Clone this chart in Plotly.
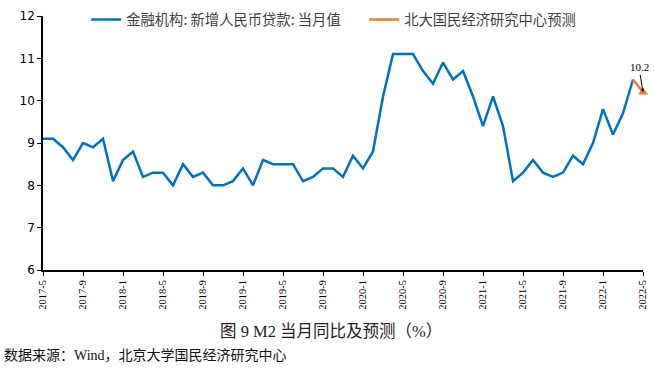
import plotly.graph_objects as go

months = [
    "2017-5", "2017-6", "2017-7", "2017-8", "2017-9", "2017-10", "2017-11", "2017-12",
    "2018-1", "2018-2", "2018-3", "2018-4", "2018-5", "2018-6", "2018-7", "2018-8",
    "2018-9", "2018-10", "2018-11", "2018-12",
    "2019-1", "2019-2", "2019-3", "2019-4", "2019-5", "2019-6", "2019-7", "2019-8",
    "2019-9", "2019-10", "2019-11", "2019-12",
    "2020-1", "2020-2", "2020-3", "2020-4", "2020-5", "2020-6", "2020-7", "2020-8",
    "2020-9", "2020-10", "2020-11", "2020-12",
    "2021-1", "2021-2", "2021-3", "2021-4", "2021-5", "2021-6", "2021-7", "2021-8",
    "2021-9", "2021-10", "2021-11", "2021-12",
    "2022-1", "2022-2", "2022-3", "2022-4", "2022-5",
]

actual_values = [
    9.1, 9.1, 8.9, 8.6, 9.0, 8.9, 9.1, 8.1,
    8.6, 8.8, 8.2, 8.3, 8.3, 8.0, 8.5, 8.2,
    8.3, 8.0, 8.0, 8.1,
    8.4, 8.0, 8.6, 8.5, 8.5, 8.5, 8.1, 8.2,
    8.4, 8.4, 8.2, 8.7,
    8.4, 8.8, 10.1, 11.1, 11.1, 11.1, 10.7, 10.4,
    10.9, 10.5, 10.7, 10.1,
    9.4, 10.1, 9.4, 8.1, 8.3, 8.6, 8.3, 8.2,
    8.3, 8.7, 8.5, 9.0,
    9.8, 9.2, 9.7, 10.5,
]

forecast_months = ["2022-4", "2022-5"]
forecast_values = [10.5, 10.2]

tick_labels = ["2017-5", "2017-9", "2018-1", "2018-5", "2018-9", "2019-1", "2019-5",
               "2019-9", "2020-1", "2020-5", "2020-9", "2021-1", "2021-5", "2021-9",
               "2022-1", "2022-5"]
y_ticks = [6, 7, 8, 9, 10, 11, 12]

legend_actual = "金融机构: 新增人民币贷款: 当月值"
legend_forecast = "北大国民经济研究中心预测"
caption = "图 9 M2 当月同比及预测（%）"
source = "数据来源：Wind，北京大学国民经济研究中心"

BLUE = "#0070c0"
ORANGE = "#ed7d31"

fig = go.Figure()
fig.add_trace(go.Scatter(
    x=months[:len(actual_values)], y=actual_values, mode="lines",
    name=legend_actual, line=dict(color=BLUE, width=2.5), cliponaxis=False,
))
fig.add_trace(go.Scatter(
    x=forecast_months, y=forecast_values, mode="lines",
    name=legend_forecast, line=dict(color=ORANGE, width=2.5), cliponaxis=False,
))
fig.add_trace(go.Scatter(
    x=forecast_months[-1:], y=forecast_values[-1:], mode="markers",
    marker=dict(symbol="triangle-up", size=9, color=ORANGE),
    showlegend=False, cliponaxis=False,
))

fig.add_annotation(
    x=forecast_months[-1], y=forecast_values[-1], xref="x", yref="y",
    text=f"{forecast_values[-1]}", showarrow=True, ax=-4, ay=-25,
    arrowhead=2, arrowsize=0.7, arrowwidth=1, arrowcolor="#000000",
    font=dict(family="Liberation Serif", size=11, color="#000000"),
)

fig.add_annotation(
    x=(331 - 43) / 600, y=-0.244, xref="paper", yref="paper", showarrow=False,
    text=caption, xanchor="center", yanchor="middle",
    font=dict(family="Liberation Serif, Noto Sans CJK SC", size=16.5, color="#222222"),
)
fig.add_annotation(
    x=-0.068, y=-0.338, xref="paper", yref="paper", showarrow=False,
    text=source, xanchor="left", yanchor="middle",
    font=dict(family="Liberation Serif, Noto Sans CJK SC", size=14, color="#111111"),
)

fig.update_layout(
    width=654, height=370,
    margin=dict(l=43, r=11, t=16, b=100, autoexpand=False),
    paper_bgcolor="white", plot_bgcolor="white",
    showlegend=True,
    legend=dict(
        orientation="h", x=0.072, y=1.048, xanchor="left", yanchor="top",
        font=dict(family="Noto Sans CJK SC", size=14.3, color="#404040"),
        bgcolor="rgba(0,0,0,0)", itemwidth=30, entrywidth=233,
    ),
    xaxis=dict(
        type="category", categoryorder="array", categoryarray=months,
        range=[0, len(months) - 1], automargin=False,
        tickmode="array", tickvals=tick_labels, ticktext=tick_labels,
        tickangle=-90, ticks="outside", ticklen=4, tickcolor="#000000",
        showline=True, linecolor="#000000", linewidth=1.5,
        showgrid=False, zeroline=False,
        tickfont=dict(family="Liberation Serif", size=10.5, color="#000000"),
    ),
    yaxis=dict(
        range=[6, 12], tickvals=y_ticks, automargin=False,
        ticks="outside", ticklen=4, tickcolor="#000000",
        showline=True, linecolor="#000000", linewidth=1.5,
        showgrid=False, zeroline=False,
        tickfont=dict(family="DejaVu Sans", size=12, color="#000000"),
    ),
)

fig.write_html(
    "out.html",
    config={"displayModeBar": False},
    post_script="document.body.style.margin='0';document.body.style.overflow='hidden';",
)
